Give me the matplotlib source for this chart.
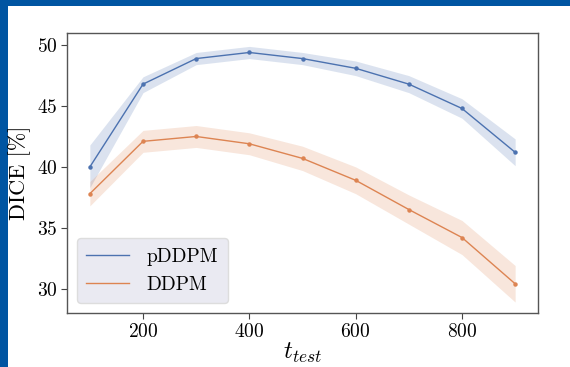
import matplotlib
matplotlib.use("Agg")
import matplotlib.pyplot as plt
from matplotlib.patches import Rectangle

# data
t_test = [100, 200, 300, 400, 500, 600, 700, 800, 900]

pddpm = [40.0, 46.8, 48.9, 49.4, 48.9, 48.1, 46.8, 44.8, 41.2]
pddpm_lo = [38.3, 46.1, 48.4, 48.9, 48.4, 47.5, 46.1, 44.0, 40.1]
pddpm_hi = [41.8, 47.4, 49.4, 49.9, 49.4, 48.7, 47.5, 45.6, 42.3]

ddpm = [37.8, 42.1, 42.5, 41.9, 40.7, 38.9, 36.5, 34.2, 30.4]
ddpm_lo = [36.8, 41.2, 41.6, 41.0, 39.7, 37.8, 35.3, 32.8, 28.9]
ddpm_hi = [38.8, 43.0, 43.4, 42.8, 41.7, 40.0, 37.7, 35.6, 31.9]

labels = ["pDDPM", "DDPM"]
colors = ["#4c72b0", "#dd8452"]

plt.rcParams["font.family"] = "serif"
plt.rcParams["font.serif"] = ["cmr10"]
plt.rcParams["mathtext.fontset"] = "cm"
plt.rcParams["axes.formatter.use_mathtext"] = True

fig = plt.figure(figsize=(5.7, 3.67), dpi=100, facecolor="#0055a2")
# white slide area
fig.patches.append(Rectangle((8 / 570, 0), 1, 1 - 6 / 367, transform=fig.transFigure,
                             facecolor="white", edgecolor="none", zorder=-10))

ax = fig.add_axes([67 / 570, 1 - 313 / 367, 471 / 570, 280 / 367])
ax.set_facecolor("white")

series = [(pddpm, pddpm_lo, pddpm_hi), (ddpm, ddpm_lo, ddpm_hi)]
for (y, lo, hi), lab, c in zip(series, labels, colors):
    ax.fill_between(t_test, lo, hi, color=c, alpha=0.2, linewidth=0)
    ax.plot(t_test, y, color=c, linewidth=1.0, marker="o", markersize=2.2, label=lab)

ax.set_xlim(57, 943)
ax.set_ylim(28.0, 51.0)
ax.set_xticks([200, 400, 600, 800])
ax.set_yticks([30, 35, 40, 45, 50])
ax.tick_params(labelsize=14, length=4, color="#444444", width=0.8, pad=3)
for s in ax.spines.values():
    s.set_color("#555555")
    s.set_linewidth(1.0)

ax.set_ylabel("DICE [%]", fontsize=16, labelpad=4)
ax.set_xlabel("$t_{test}$", fontsize=18, labelpad=0)

leg = ax.legend(loc="lower left", fontsize=14, facecolor="#eaeaf2", edgecolor="#dddddd",
                framealpha=1.0, handlelength=2.2, handletextpad=0.9, borderpad=0.5)
for line in leg.get_lines():
    line.set_marker("")

fig.savefig("out.png", dpi=100, facecolor=fig.get_facecolor())
